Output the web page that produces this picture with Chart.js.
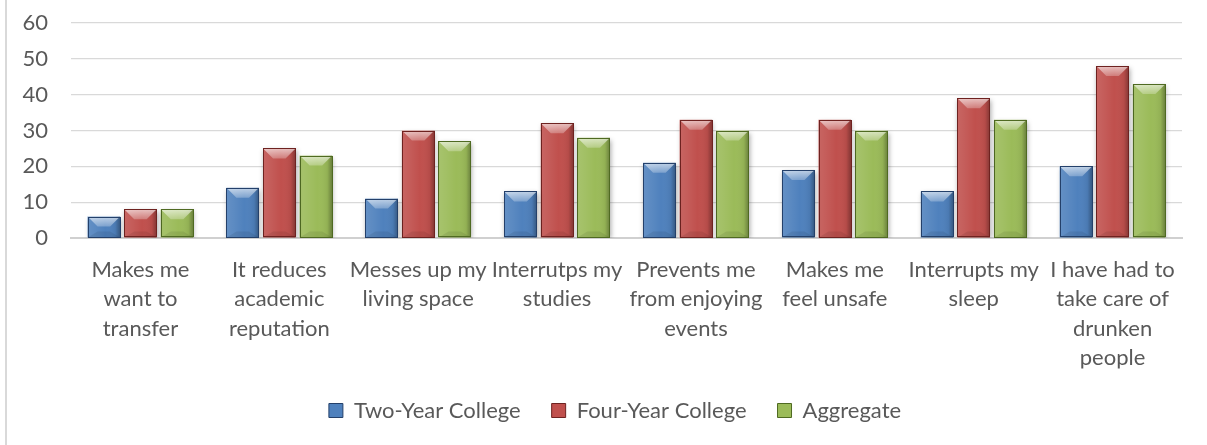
<!DOCTYPE html>
<html>
<head>
<meta charset="utf-8">
<script src="https://cdn.jsdelivr.net/npm/chart.js@4/dist/chart.umd.min.js"></script>
<style>
  html,body{margin:0;padding:0;background:#fff;}
  #wrap{position:absolute;left:0;top:0;width:1207px;height:445px;}
  #edge{position:absolute;left:5px;top:0;width:2px;height:445px;background:#d9d9d9;}
  canvas{position:absolute;left:0;top:0;}
</style>
</head>
<body>
<div id="wrap"><div id="edge"></div><canvas id="c" width="1207" height="445"></canvas></div>
<script>
const categories = [
  ["Makes me","want to","transfer"],
  ["It reduces","academic","reputation"],
  ["Messes up my","living space"],
  ["Interrutps my","studies"],
  ["Prevents me","from enjoying","events"],
  ["Makes me","feel unsafe"],
  ["Interrupts my","sleep"],
  ["I have had to","take care of","drunken","people"]
];
const seriesNames = ["Two-Year College","Four-Year College","Aggregate"];
const twoYear  = [6, 14, 11, 13, 21, 19, 13, 20];
const fourYear = [8, 25, 30, 32, 33, 33, 39, 48];
const aggregate= [8, 23, 27, 28, 30, 30, 33, 43];
const yTicks = [0,10,20,30,40,50,60];

const colors = ["#4F81BD","#C0504D","#9BBB59"];
const darks  = ["#24406a","#6e2220","#4f6a22"];

const FONT = "Lato, 'Open Sans', sans-serif";

const bevel = {
  id:'bevel',
  beforeDatasetDraw(chart){
    const c = chart.ctx; c.save();
    c.shadowColor='rgba(0,0,0,0.35)'; c.shadowBlur=5; c.shadowOffsetX=1; c.shadowOffsetY=2;
  },
  afterDatasetDraw(chart, args){
    const c = chart.ctx; c.restore();
    const idx = args.index;
    args.meta.data.forEach(el=>{
      const p = el.getProps(['x','y','base','width'], true);
      const l = p.x - p.width/2, r = p.x + p.width/2;
      const t = Math.min(p.y,p.base), b = Math.max(p.y,p.base);
      const h = b - t;
      const bv = Math.min(10, h/2, p.width/3);
      c.save();
      const g = c.createLinearGradient(l,0,r,0);
      g.addColorStop(0,'rgba(255,255,255,0.12)');
      g.addColorStop(0.25,'rgba(255,255,255,0.07)');
      g.addColorStop(0.55,'rgba(255,255,255,0.0)');
      g.addColorStop(0.85,'rgba(0,0,0,0.06)');
      g.addColorStop(1,'rgba(0,0,0,0.32)');
      c.fillStyle = g; c.fillRect(l,t,r-l,h);
      const tg = c.createLinearGradient(0,t,0,t+bv);
      tg.addColorStop(0,'rgba(255,255,255,0.65)');
      tg.addColorStop(1,'rgba(255,255,255,0.25)');
      c.beginPath(); c.moveTo(l,t); c.lineTo(r,t); c.lineTo(r-bv,t+bv); c.lineTo(l+bv,t+bv); c.closePath();
      c.fillStyle = tg; c.fill();
      c.beginPath(); c.moveTo(l,b); c.lineTo(r,b); c.lineTo(r-bv,b-bv*0.6); c.lineTo(l+bv,b-bv*0.6); c.closePath();
      c.fillStyle='rgba(0,0,0,0.08)'; c.fill();
      c.strokeStyle = darks[idx]; c.lineWidth = 1;
      c.strokeRect(Math.round(l)+0.5, Math.round(t)+0.5, Math.round(r-l)-1, Math.round(h)-1);
      c.restore();
    });
  }
};

const legendShift = {
  id:'legendShift',
  afterLayout(chart){
    if (chart.legend){ chart.legend.left += 24; chart.legend.right += 24; }
  }
};

const datasets = [twoYear, fourYear, aggregate].map((d,i)=>({
  label: seriesNames[i],
  data: d,
  backgroundColor: colors[i],
  borderColor: darks[i],
  borderWidth: 0,
  categoryPercentage: 0.79,
  barPercentage: 0.89
}));

new Chart(document.getElementById('c'), {
  type:'bar',
  data:{ labels: categories, datasets },
  plugins:[bevel, legendShift],
  options:{
    responsive:false,
    animation:false,
    layout:{ padding:{ left:0, right:25, top:23, bottom:13.5 } },
    scales:{
      x:{
        grid:{ display:false, drawTicks:false },
        border:{ display:true, color:'#d0d0d0', width:2 },
        ticks:{ color:'#595959', padding:17, maxRotation:0, autoSkip:false,
          font:{ family:FONT, size:22, lineHeight:'29.5px' } },
        afterFit(s){ s.height = 130.5; }
      },
      y:{
        min:0, max:60,
        afterBuildTicks(s){ s.ticks = yTicks.map(v=>({value:v})); },
        grid:{ color:'#d9d9d9', lineWidth:1.2, drawTicks:true, tickLength:23, tickColor:'rgba(0,0,0,0)' },
        border:{ display:false },
        ticks:{ color:'#595959', padding:0, font:{ family:FONT, size:22 } },
        afterFit(s){ s.width = 71; }
      }
    },
    plugins:{
      tooltip:{ enabled:false },
      legend:{
        position:'bottom',
        labels:{
          color:'#595959',
          font:{ family:FONT, size:22 },
          boxWidth:14, boxHeight:14, padding:31,
          generateLabels(chart){
            const items = Chart.defaults.plugins.legend.labels.generateLabels(chart);
            items.forEach((it,i)=>{ it.lineWidth=1; it.strokeStyle=darks[i]; });
            return items;
          }
        }
      }
    }
  }
});
</script>
</body>
</html>
